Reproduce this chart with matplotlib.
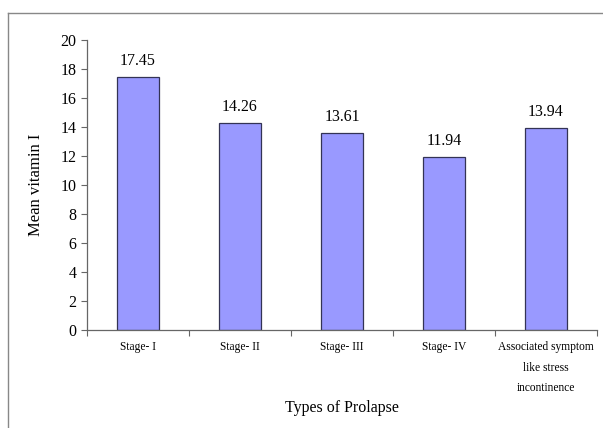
import matplotlib.pyplot as plt
from matplotlib.lines import Line2D

categories = ['Stage- I', 'Stage- II', 'Stage- III', 'Stage- IV',
              'Associated symptom\nlike stress\nincontinence']
values = [17.45, 14.26, 13.61, 11.94, 13.94]
value_labels = ['17.45', '14.26', '13.61', '11.94', '13.94']

plt.rcParams['font.family'] = ['Liberation Serif', 'DejaVu Serif']

fig = plt.figure(figsize=(6.03, 4.28), dpi=100)
ax = fig.add_axes([87 / 603, 1 - 330 / 428, 510 / 603, 290 / 428])

# outer chart border (runs off the right and bottom edges)
fig.add_artist(Line2D([8 / 603, 8 / 603], [0, 1 - 13 / 428], transform=fig.transFigure,
                      color='#888888', lw=1))
fig.add_artist(Line2D([8 / 603, 1], [1 - 13 / 428, 1 - 13 / 428], transform=fig.transFigure,
                      color='#888888', lw=1))

x = list(range(len(categories)))
ax.bar(x, values, width=0.41, color='#9999FF', edgecolor='#333355', linewidth=0.9)

for xi, v, lab in zip(x, values, value_labels):
    ax.text(xi, v + 0.55, lab, ha='center', va='bottom', fontsize=11.5)

ax.set_xlim(-0.5, len(categories) - 0.5)
ax.set_ylim(0, 20)
ax.set_yticks(range(0, 21, 2))
ax.tick_params(axis='y', labelsize=11.5, length=4, direction='out', color='#666666')

# category ticks between bars, labels centered under bars
ax.set_xticks([i - 0.5 for i in range(len(categories) + 1)])
ax.set_xticklabels([])
ax.set_xticks(x, minor=True)
ax.set_xticklabels(categories, minor=True, fontsize=8.3, linespacing=1.95)
ax.tick_params(axis='x', which='major', length=4, color='#666666')
ax.tick_params(axis='x', which='minor', length=0, pad=8)

for side in ['top', 'right']:
    ax.spines[side].set_visible(False)
for side in ['left', 'bottom']:
    ax.spines[side].set_color('#666666')
    ax.spines[side].set_linewidth(0.9)

ax.set_ylabel('Mean vitamin I', fontsize=12, labelpad=12)
fig.text(342 / 603, 1 - 408 / 428, 'Types of Prolapse', fontsize=11.5,
         ha='center', va='center')

fig.savefig('out.png', dpi=100)
